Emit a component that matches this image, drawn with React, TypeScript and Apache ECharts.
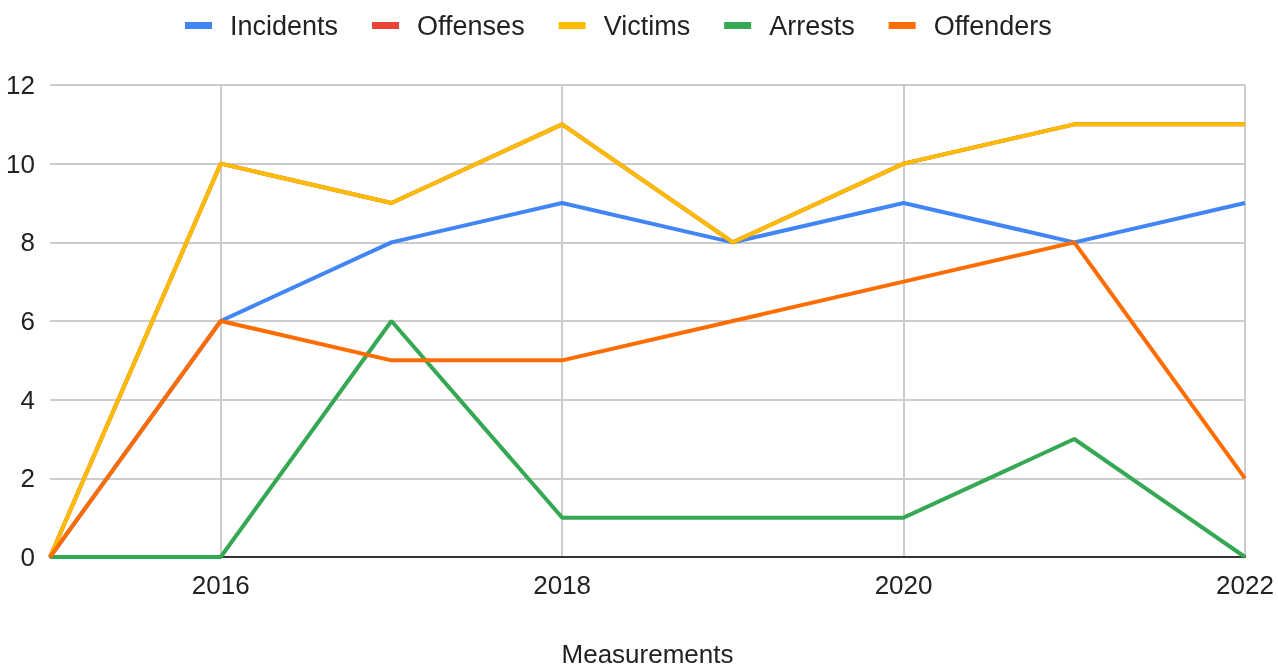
import React, { useEffect, useRef } from "react";
import * as echarts from "echarts";

const years = ["2015", "2016", "2017", "2018", "2019", "2020", "2021", "2022"];
const incidents = [0, 6, 8, 9, 8, 9, 8, 9];
const offenses = [0, 10, 9, 11, 8, 10, 11, 11];
const victims = [0, 10, 9, 11, 8, 10, 11, 11];
const arrests = [0, 0, 6, 1, 1, 1, 3, 0];
const offenders = [0, 6, 5, 5, 6, 7, 8, 2];

const seriesNames = ["Incidents", "Offenses", "Victims", "Arrests", "Offenders"];
const seriesData = [incidents, offenses, victims, arrests, offenders];
const colors = ["#4285F4", "#EA4335", "#FBBC04", "#34A853", "#FF6D01"];

const FONT = "'Liberation Sans', Arial, sans-serif";

export default function App() {
  const ref = useRef<HTMLDivElement>(null);
  useEffect(() => {
    const chart = echarts.init(ref.current!, null, { renderer: "svg" });
    chart.setOption({
      animation: false,
      color: colors,
      textStyle: { fontFamily: FONT },
      legend: {
        top: 7,
        left: 180,
        icon: "rect",
        itemWidth: 27,
        itemHeight: 7,
        itemGap: 34,
        textStyle: {
          fontFamily: FONT,
          fontSize: 27,
          color: "#222",
          padding: [0, 0, 0, 13],
        },
        data: seriesNames,
      },
      grid: {
        left: 50,
        right: 33,
        top: 85,
        bottom: 112,
        containLabel: false,
        outerBoundsMode: "none",
      },
      xAxis: {
        type: "category",
        data: years,
        boundaryGap: false,
        name: "Measurements",
        nameLocation: "middle",
        nameGap: 84,
        nameTextStyle: { fontFamily: FONT, fontSize: 26, color: "#222" },
        axisLine: { lineStyle: { color: "#333", width: 2 } },
        axisTick: { show: false },
        axisLabel: {
          interval: (i: number) => i % 2 === 1,
          fontFamily: FONT,
          fontSize: 26,
          color: "#222",
          margin: 15,
        },
        splitLine: {
          show: true,
          interval: (i: number) => i % 2 === 1,
          lineStyle: { color: "#cccccc", width: 2 },
        },
      },
      yAxis: {
        type: "value",
        min: 0,
        max: 12,
        interval: 2,
        axisLine: { show: false },
        axisTick: { show: false },
        axisLabel: {
          fontFamily: FONT,
          fontSize: 26,
          color: "#222",
          margin: 15,
        },
        splitLine: { lineStyle: { color: "#cccccc", width: 2 } },
      },
      series: seriesNames.map((name, i) => ({
        name,
        type: "line",
        data: seriesData[i],
        symbol: "none",
        lineStyle: { width: 4, color: colors[i] },
        itemStyle: { color: colors[i] },
      })),
    });
    return () => chart.dispose();
  }, []);
  return (
    <div
      ref={ref}
      style={{ position: "fixed", left: 0, top: 0, width: 1278, height: 669 }}
    />
  );
}
